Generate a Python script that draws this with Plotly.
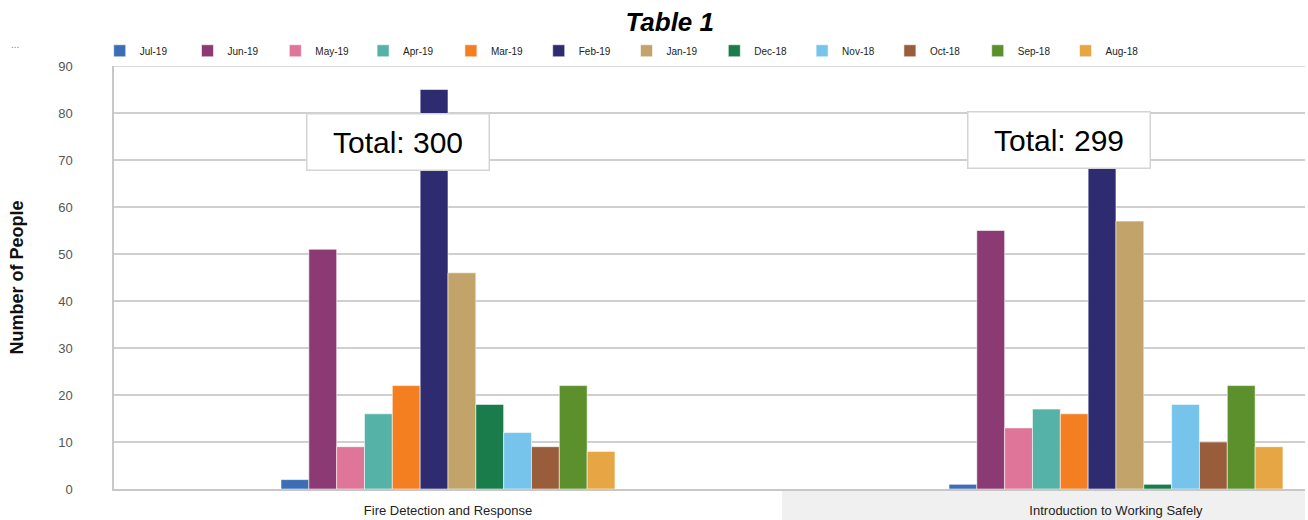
import plotly.graph_objects as go

categories = ["Fire Detection and Response", "Introduction to Working Safely"]
months = ["Jul-19", "Jun-19", "May-19", "Apr-19", "Mar-19", "Feb-19",
          "Jan-19", "Dec-18", "Nov-18", "Oct-18", "Sep-18", "Aug-18"]
fire_values = [2, 51, 9, 16, 22, 85, 46, 18, 12, 9, 22, 8]
intro_values = [1, 55, 13, 17, 16, 80, 57, 1, 18, 10, 22, 9]
colors = ["#3d6db5", "#8b3a74", "#df7599", "#55b2a6", "#f47f20", "#2e2b71",
          "#c2a36a", "#1b7c4b", "#76c4ec", "#995d3b", "#5c902c", "#e5a643"]
y_ticks = [0, 10, 20, 30, 40, 50, 60, 70, 80, 90]

fig = go.Figure()
for i, m in enumerate(months):
    fig.add_trace(go.Bar(
        name=m, x=categories, y=[fire_values[i], intro_values[i]],
        marker=dict(color=colors[i], line=dict(color="rgba(255,255,255,0.55)", width=1)),
    ))

totals = [sum(fire_values), sum(intro_values)]
offsets = [-0.075, -0.085]
ypos = [73.8, 74.2]
annotations = []
for k in range(2):
    annotations.append(dict(
        x=k + offsets[k], y=ypos[k], xref="x", yref="y",
        text=f"Total: {totals[k]}", showarrow=False,
        font=dict(family="Liberation Sans, Arial, sans-serif", size=30, color="#000"),
        bgcolor="white", bordercolor="#d4d4d4", borderwidth=1.5, borderpad=0,
        width=181, height=55, xanchor="center", yanchor="middle",
    ))

annotations.append(dict(
    x=-0.0815, y=0.5, xref="paper", yref="paper", text="<b>Number of People</b>",
    textangle=-90, showarrow=False,
    font=dict(family="Liberation Sans, Arial, sans-serif", size=18, color="#111"),
    xanchor="center", yanchor="middle"))
annotations.append(dict(
    x=-0.083, y=1.05, xref="paper", yref="paper", text="...",
    showarrow=False, font=dict(family="Liberation Sans, Arial, sans-serif", size=10, color="#888"),
    xanchor="center", yanchor="middle"))

fig.update_layout(
    width=1308, height=520,
    margin=dict(l=114, r=3, t=66, b=31, autoexpand=False),
    paper_bgcolor="white", plot_bgcolor="white",
    barmode="group", bargap=0.5, bargroupgap=0,
    title=dict(text="<b><i>Table 1</i></b>", x=0.512, xanchor="center", y=0.958, yanchor="middle",
               font=dict(family="Liberation Sans, Arial, sans-serif", size=26, color="#000")),
    font=dict(family="Liberation Sans, Arial, sans-serif"),
    legend=dict(orientation="h", x=-0.012, xanchor="left", y=1.036, yanchor="middle",
                entrywidth=42.8, entrywidthmode="pixels", traceorder="normal",
                font=dict(size=10, color="#222"), bgcolor="rgba(0,0,0,0)"),
    xaxis=dict(range=[-0.5, 1.283], showgrid=False, showline=True, linecolor="#c8c8c8", linewidth=1.5,
               ticks="", ticklabelstandoff=9, automargin=False, tickfont=dict(size=13, color="#222")),
    yaxis=dict(range=[0, 90], tickvals=y_ticks, showgrid=True, gridcolor="#cfcfcf", gridwidth=1.5,
               showline=True, linecolor="#c8c8c8", linewidth=1.5, zeroline=False, automargin=False,
               ticks="", ticklabelstandoff=37, tickfont=dict(size=13, color="#555")),
    annotations=annotations,
    shapes=[
        dict(type="rect", xref="x", yref="paper", x0=0.5, x1=1.5, y0=-0.005, y1=-0.08,
             fillcolor="#f0f0f0", line=dict(width=0), layer="below"),
        dict(type="line", xref="paper", yref="y", x0=0, x1=1, y0=90, y1=90,
             line=dict(color="#cfcfcf", width=1.5)),
    ],
)

fig.write_html("out.html")
